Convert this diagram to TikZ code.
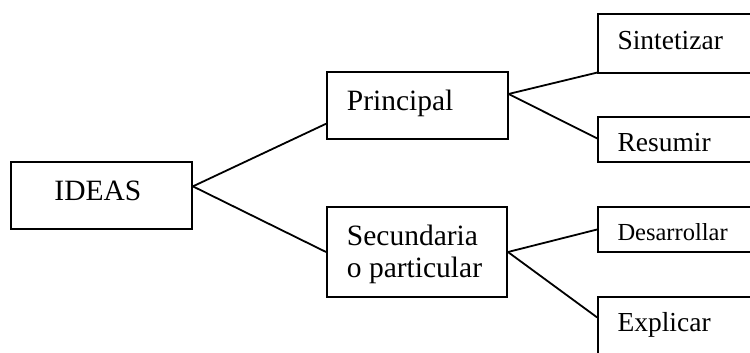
\documentclass[tikz,border=0pt]{standalone}
\usepackage{fontspec}
\setmainfont{Liberation Serif}
\usetikzlibrary{calc}
\tikzset{
  box/.style={draw=black, line width=1.9bp, rectangle, inner sep=0pt},
  lbl/.style={anchor=base west, inner sep=0pt, align=left},
  big/.style={font=\fontsize{29.5bp}{32.7bp}\selectfont},
  mid/.style={font=\fontsize{27.5bp}{30bp}\selectfont},
  small/.style={font=\fontsize{24.5bp}{27bp}\selectfont},
  conn/.style={draw=black, line width=1.8bp}
}
\begin{document}
\begin{tikzpicture}[x=1bp,y=-1bp]
\useasboundingbox (0,0) rectangle (750,352);
\clip (0,0) rectangle (750,352);
% boxes
\node[box, minimum width=180.5bp, minimum height=67.3bp] (ideas) at (101.7,195.35) {};
\node[box, minimum width=180.7bp, minimum height=67.6bp] (prin) at (417.3,105.5) {};
\node[box, minimum width=180bp, minimum height=90.6bp] (sec) at (417,252) {};
\node[box, minimum width=172bp, minimum height=59.6bp] (sin) at (684,43.5) {};
\node[box, minimum width=172bp, minimum height=45bp] (res) at (684,139.8) {};
\node[box, minimum width=172bp, minimum height=45.6bp] (des) at (684,229.5) {};
\node[box, minimum width=172bp, minimum height=70bp] (exp) at (684,332.3) {};
% texts
\node[lbl, big] (tideas) at (54.3,200) {IDEAS};
\node[lbl, big] (tprin) at (346.7,110) {Principal};
\node[lbl, big] (tsec) at (346.7,245) {Secundaria};
\node[lbl, big] (tsec2) at (346.7,277.7) {o particular};
\node[lbl, mid] (tsin) at (617.3,49.3) {Sintetizar};
\node[lbl, mid] (tres) at (617.3,151.7) {Resumir};
\node[lbl, small] (tdes) at (617.3,240) {Desarrollar};
\node[lbl, mid] (texp) at (617.3,331.7) {Explicar};
% connectors
\coordinate (o1) at ($(ideas.south east)!0.63!(ideas.north east)$);
\coordinate (o2) at ($(prin.south east)!0.666!(prin.north east)$);
\draw[conn] (o1) -- ($(prin.south west)!0.237!(prin.north west)$);
\draw[conn] (o1) -- (sec.west);
\draw[conn] (o2) -- ($(sin.south west)!0.027!(sin.north west)$);
\draw[conn] (o2) -- ($(res.south west)!0.53!(res.north west)$);
\draw[conn] (sec.east) -- (des.west);
\draw[conn] (sec.east) -- ($(exp.north west)+(0,21)$);
\end{tikzpicture}
\end{document}
